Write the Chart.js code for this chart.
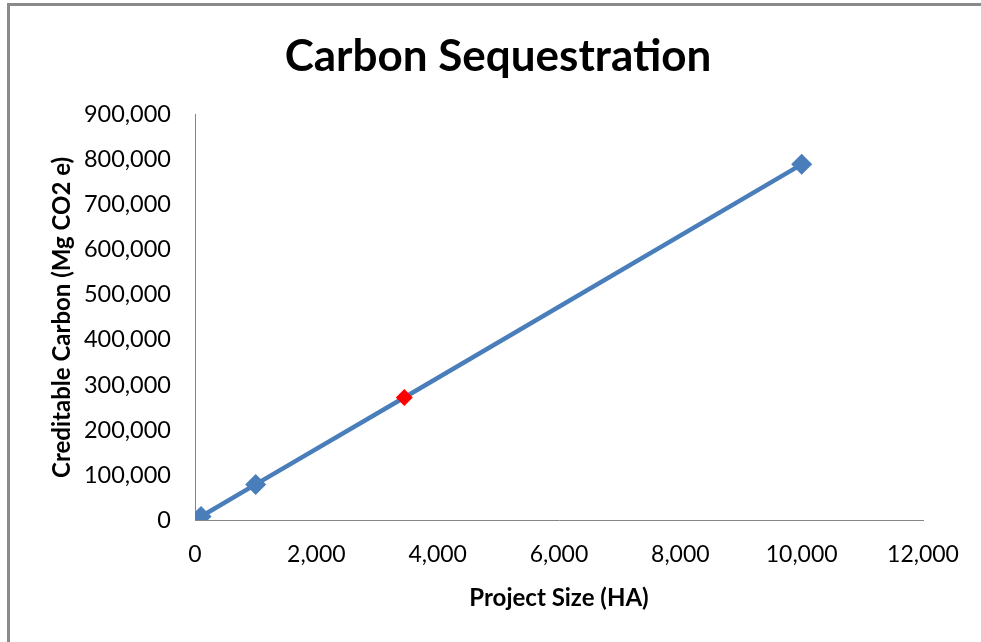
<!DOCTYPE html>
<html>
<head>
<meta charset="utf-8">
<script src="https://cdn.jsdelivr.net/npm/chart.js@4.4.0/dist/chart.umd.min.js"></script>
<style>
  html, body { margin: 0; padding: 0; background: #fff; overflow: hidden; }
  #wrap { position: relative; width: 981px; height: 642px; overflow: hidden; }
  #frame { position: absolute; left: 7px; top: 3px; width: 1000px; height: 700px;
           border-left: 3px solid #8a8a8a; border-top: 3px solid #8a8a8a; pointer-events: none; }
  canvas { position: absolute; left: 0; top: 0; }
</style>
</head>
<body>
<div id="wrap">
  <canvas id="c" width="981" height="642"></canvas>
  <div id="frame"></div>
</div>
<script>
// Project size (hectares) and creditable carbon (Mg CO2 e)
const projectSize = [100, 1000, 3450, 10000];
const creditableCarbon = [7900, 79000, 272000, 790000];

// Highlighted project
const highlightSize = [3450];
const highlightCarbon = [272000];

// Axis tick values
const xTicks = [0, 2000, 4000, 6000, 8000, 10000, 12000];
const yTicks = [0, 100000, 200000, 300000, 400000, 500000, 600000, 700000, 800000, 900000];

const FONT = 'Lato, "Open Sans", sans-serif';
const fmt = v => Number(v).toLocaleString('en-US');

const mainPoints = projectSize.map((x, i) => ({ x, y: creditableCarbon[i] }));
const highlightPoints = highlightSize.map((x, i) => ({ x, y: highlightCarbon[i] }));

new Chart(document.getElementById('c'), {
  type: 'scatter',
  data: {
    datasets: [
      {
        label: 'Highlighted',
        data: highlightPoints,
        showLine: false,
        pointStyle: 'rectRot',
        pointRadius: 8.5,
        pointHoverRadius: 8.5,
        backgroundColor: '#ff0000',
        borderColor: '#ff0000',
        borderWidth: 0,
        order: 0
      },
      {
        label: 'Carbon',
        data: mainPoints,
        showLine: true,
        borderColor: '#4a7ebb',
        borderWidth: 4.5,
        pointStyle: 'rectRot',
        pointRadius: ctx => highlightSize.includes(ctx.raw && ctx.raw.x) ? 0 : 10.5,
        pointHoverRadius: ctx => highlightSize.includes(ctx.raw && ctx.raw.x) ? 0 : 10.5,
        pointBackgroundColor: '#4a7ebb',
        pointBorderColor: '#4a7ebb',
        pointBorderWidth: 0,
        tension: 0,
        order: 1
      }
    ]
  },
  options: {
    responsive: false,
    animation: false,
    events: [],
    layout: { padding: { left: 73, right: 58, top: 0, bottom: 0 } },
    plugins: {
      legend: { display: false },
      tooltip: { enabled: false },
      title: {
        display: true,
        text: 'Carbon Sequestration',
        color: '#000',
        font: { family: FONT, size: 44, weight: 'bold', lineHeight: 1.2 },
        padding: { top: 30, bottom: 32 }
      }
    },
    scales: {
      x: {
        type: 'linear',
        min: 0,
        max: 12000,
        afterBuildTicks: s => { s.ticks = xTicks.map(v => ({ value: v })); },
        afterFit: s => { s.height = 122; },
        grid: { display: false, drawTicks: false },
        border: { display: true, color: '#868686', width: 1 },
        ticks: {
          color: '#000',
          padding: 21,
          maxRotation: 0,
          font: { family: FONT, size: 23 },
          callback: v => fmt(v)
        },
        title: {
          display: true,
          text: 'Project Size (HA)',
          color: '#000',
          font: { family: FONT, size: 24, weight: 'bold', lineHeight: 1.2 },
          padding: { top: 0, bottom: 29.6 }
        }
      },
      y: {
        type: 'linear',
        min: 0,
        max: 900000,
        afterBuildTicks: s => { s.ticks = yTicks.map(v => ({ value: v })); },
        afterFit: s => { s.width = 122; },
        grid: { display: false, drawTicks: false },
        border: { display: true, color: '#868686', width: 1 },
        ticks: {
          color: '#000',
          padding: 24,
          font: { family: FONT, size: 23.5 },
          callback: v => fmt(v)
        },
        title: {
          display: true,
          text: 'Creditable Carbon (Mg CO2 e)',
          color: '#000',
          font: { family: FONT, size: 24, weight: 'bold', lineHeight: 1.2 },
          padding: { top: -25.4, bottom: 0 }
        }
      }
    }
  }
});
</script>
</body>
</html>
